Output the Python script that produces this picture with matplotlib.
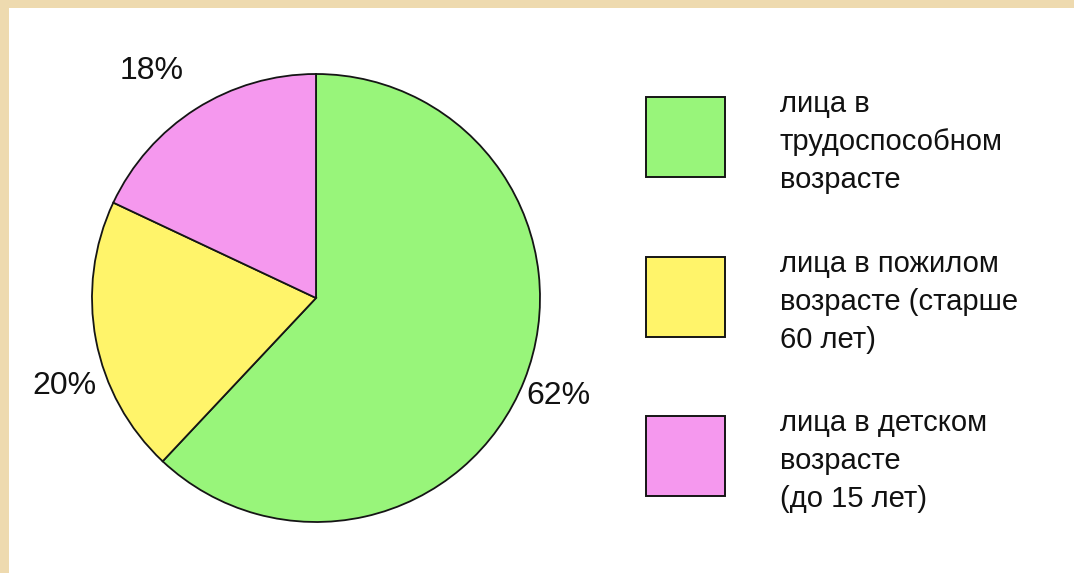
import matplotlib
matplotlib.use('Agg')
import matplotlib.pyplot as plt
from matplotlib.patches import Rectangle

# data
shares = [62, 20, 18]
labels = ['лица в\nтрудоспособном\nвозрасте',
          'лица в пожилом\nвозрасте (старше\n60 лет)',
          'лица в детском\nвозрасте\n(до 15 лет)']
colors = ['#98F57A', '#FFF46A', '#F598EE']

W, H = 1074, 573
plt.rcParams['font.family'] = ['Liberation Sans', 'DejaVu Sans']


def fy(y):
    return H - y


fig = plt.figure(figsize=(W / 100, H / 100), dpi=100, facecolor='#EEDAAF')
ax = fig.add_axes([0, 0, 1, 1])

# white panel
ax.add_patch(Rectangle((9, 0), W - 9, fy(8), facecolor='white', edgecolor='none', zorder=0))

wedges, _, autotexts = ax.pie(
    shares, colors=colors, startangle=90, counterclock=False,
    center=(316, fy(298)), radius=224,
    autopct='%d%%', pctdistance=1.2,
    wedgeprops=dict(edgecolor='#151515', linewidth=1.3),
    textprops=dict(fontsize=23, color='#111111'))

# label spots
label_pos = [(558, 396), (64, 386), (152, 71)]
for t, (x, y) in zip(autotexts, label_pos):
    t.set_position((x, fy(y)))
    t.set_ha('center')
    t.set_va('center')

# legend
box_top = [97, 257, 416]
for lab, col, top in zip(labels, colors, box_top):
    ax.add_patch(Rectangle((646, fy(top + 80)), 79, 80, facecolor=col,
                           edgecolor='#151515', linewidth=1.4, zorder=3))
    ax.text(780, fy(top + 45), lab, fontsize=21, color='#111111',
            ha='left', va='center', linespacing=1.45)

ax.set_xlim(0, W)
ax.set_ylim(0, H)
ax.set_aspect('auto')
ax.axis('off')

fig.savefig('out.png', dpi=100, facecolor=fig.get_facecolor())
